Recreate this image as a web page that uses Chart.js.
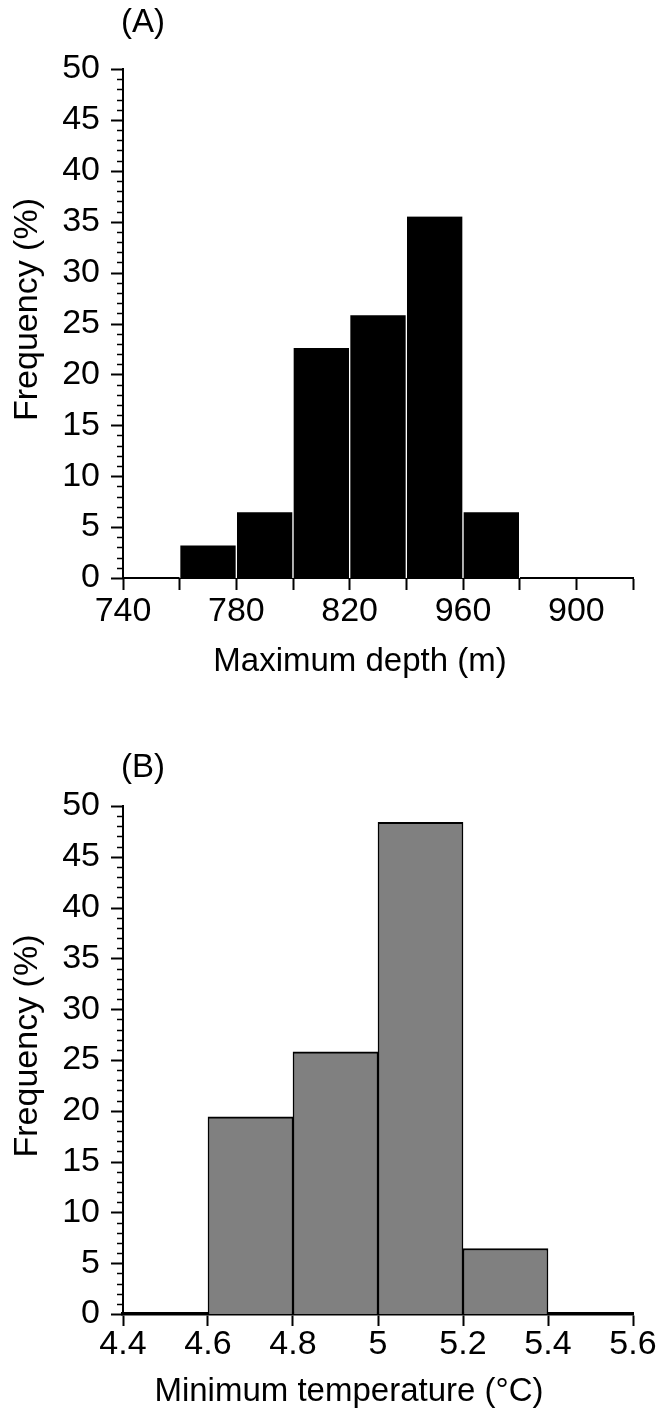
<!DOCTYPE html>
<html>
<head>
<meta charset="utf-8">
<script src="https://cdn.jsdelivr.net/npm/chart.js@4.4.1/dist/chart.umd.min.js"></script>
<style>
  body { margin: 0; background: #fff; }
  .panel { position: relative; width: 665px; }
  canvas { display: block; }
</style>
</head>
<body>
<div class="panel"><canvas id="chartA" width="665" height="710"></canvas></div>
<div class="panel"><canvas id="chartB" width="665" height="709"></canvas></div>
<script>
// (A) maximum depth histogram, bins of 20 m
const depthCenters = [770, 790, 810, 830, 850, 870];
const depthFreq = [3.2, 6.45, 22.6, 25.8, 35.5, 6.45];
const depthTickValues = [740, 780, 820, 860, 900];
const depthTickLabels = ["740", "780", "820", "960", "900"];

// (B) minimum temperature histogram, bins of 0.2 °C
const tempCenters = [4.5, 4.7, 4.9, 5.1, 5.3, 5.5];
const tempFreq = [0, 19.4, 25.8, 48.4, 6.45, 0];
const tempTickLabels = ["4.4", "4.6", "4.8", "5", "5.2", "5.4", "5.6"];

const yLabels = [0, 5, 10, 15, 20, 25, 30, 35, 40, 45, 50];

const FONT = "'Liberation Sans', Arial, sans-serif";
const FSIZE = 34;
const TSIZE = 33;

// y axis ticks: long ones on labelled values, short ones every 1 %
const yTicksPlugin = {
  id: "yTicks",
  afterDraw(chart) {
    const y = chart.scales.y;
    const ctx = chart.ctx;
    const x0 = chart.chartArea.left;
    ctx.save();
    ctx.strokeStyle = "#000";
    y.ticks.forEach(t => {
      const py = Math.round(y.getPixelForValue(t.value)) + 0.5;
      const major = yLabels.includes(t.value);
      ctx.lineWidth = major ? 2 : 1.5;
      ctx.beginPath();
      ctx.moveTo(x0 - (major ? 12 : 6), py);
      ctx.lineTo(x0, py);
      ctx.stroke();
    });
    ctx.restore();
  }
};

// panel letter and axis titles
const titlesPlugin = {
  id: "titles",
  afterDraw(chart, args, opts) {
    const ctx = chart.ctx;
    const area = chart.chartArea;
    ctx.save();
    ctx.fillStyle = "#000";
    ctx.font = TSIZE + "px " + FONT;
    ctx.textBaseline = "middle";
    ctx.textAlign = "left";
    ctx.fillText(opts.panel, opts.panelX, opts.panelY);
    ctx.textAlign = "center";
    ctx.fillText(opts.xTitle, opts.xTitleX, area.bottom + opts.xTitleDy);
    ctx.translate(opts.yTitleX, (area.top + area.bottom) / 2 + opts.yTitleDy);
    ctx.rotate(-Math.PI / 2);
    ctx.font = FSIZE + "px " + FONT;
    ctx.fillText(opts.yTitle, 0, 0);
    ctx.restore();
  }
};

function makeChart(id, cfg) {
  return new Chart(document.getElementById(id), {
    type: "bar",
    data: {
      datasets: [{
        data: cfg.centers.map((c, i) => ({ x: c, y: cfg.values[i] })),
        backgroundColor: cfg.fill,
        borderColor: cfg.edge,
        borderWidth: cfg.edgeWidth,
        borderSkipped: false,
        barPercentage: 1,
        categoryPercentage: 1
      }]
    },
    options: {
      responsive: false,
      animation: false,
      events: [],
      layout: { padding: { top: cfg.top, right: 32, left: 0, bottom: 0 } },
      plugins: {
        legend: { display: false },
        tooltip: { enabled: false },
        titles: cfg.titles
      },
      scales: {
        x: {
          type: "linear",
          min: cfg.xMin,
          max: cfg.xMax,
          offset: false,
          afterFit: s => { s.height = cfg.xHeight; },
          afterBuildTicks: s => { s.ticks = cfg.tickValues.map(v => ({ value: v })); },
          grid: {
            offset: false,
            drawOnChartArea: false,
            drawTicks: true,
            tickLength: 12,
            tickWidth: 2,
            tickColor: "#000"
          },
          border: { display: true, color: "#000", width: cfg.baseWidth },
          ticks: {
            autoSkip: false,
            maxRotation: 0,
            padding: cfg.xPad,
            color: "#000",
            font: { family: FONT, size: FSIZE },
            callback: cfg.xLabel
          }
        },
        y: {
          min: 0,
          max: 50,
          afterFit: s => { s.width = 123; },
          grid: { display: false, drawTicks: false },
          border: { display: true, color: "#000", width: 2 },
          ticks: {
            stepSize: 1,
            autoSkip: false,
            padding: 23,
            color: "#000",
            font: { family: FONT, size: FSIZE },
            callback: v => (yLabels.includes(v) ? String(v) : "")
          }
        }
      }
    },
    plugins: [yTicksPlugin, titlesPlugin]
  });
}

const depthAllTicks = [740, 760, 780, 800, 820, 840, 860, 880, 900, 920];
makeChart("chartA", {
  centers: depthCenters,
  values: depthFreq,
  fill: "#000",
  edge: "#fff",
  edgeWidth: { left: 1, right: 1, top: 0, bottom: 0 },
  top: 69,
  xMin: 740,
  xMax: 920,
  xHeight: 132,
  xPad: 1,
  baseWidth: 2,
  tickValues: depthAllTicks,
  xLabel: v => {
    const i = depthTickValues.indexOf(v);
    return i >= 0 ? depthTickLabels[i] : "";
  },
  titles: {
    panel: "(A)", panelX: 121, panelY: 23,
    xTitle: "Maximum depth (m)", xTitleX: 360, xTitleDy: 84,
    yTitle: "Frequency (%)", yTitleX: 28, yTitleDy: -14
  }
});

const tempAllTicks = [4.4, 4.6, 4.8, 5.0, 5.2, 5.4, 5.6];
makeChart("chartB", {
  centers: tempCenters,
  values: tempFreq,
  fill: "#808080",
  edge: "#000",
  edgeWidth: { left: 1.5, right: 1.5, top: 2, bottom: 0 },
  top: 96,
  xMin: 4.4,
  xMax: 5.6,
  xHeight: 105,
  xPad: -2,
  baseWidth: 3.5,
  tickValues: tempAllTicks,
  xLabel: (v, i) => tempTickLabels[i],
  titles: {
    panel: "(B)", panelX: 121, panelY: 58,
    xTitle: "Minimum temperature (°C)", xTitleX: 349, xTitleDy: 78,
    yTitle: "Frequency (%)", yTitleX: 28, yTitleDy: -14
  }
});
</script>
</body>
</html>
